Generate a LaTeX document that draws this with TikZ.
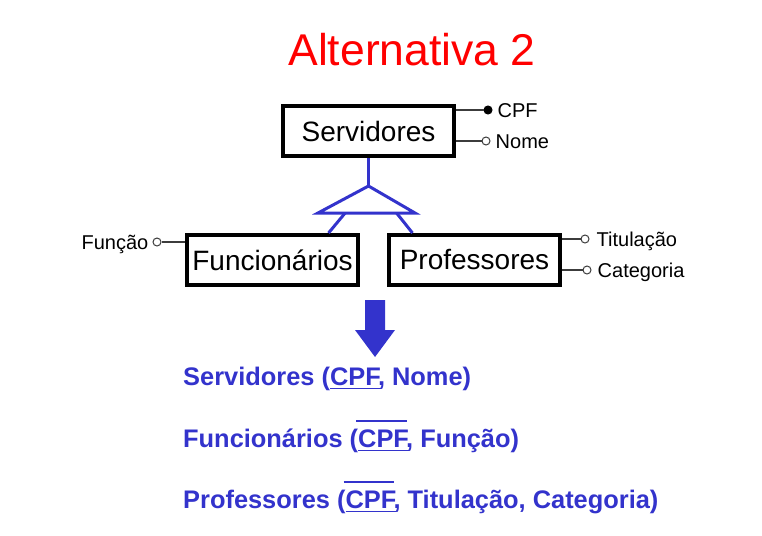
\documentclass[tikz,border=0pt]{standalone}
\usepackage{fontspec}
\setmainfont{Liberation Sans}
\usepackage{calc}
\usepackage{xcolor}
\usepackage{tikz}
\usetikzlibrary{arrows.meta,positioning,calc}
\definecolor{isablue}{RGB}{51,51,204}
\definecolor{attrgray}{RGB}{60,60,60}
\newcommand{\pkey}[1]{\leavevmode\rlap{\raisebox{-0.17em}{\rule{\widthof{#1}}{1.7pt}}}#1}
\newcommand{\fkey}[1]{\leavevmode\rlap{\hspace{-2pt}\raisebox{0.98em}{\rule{\widthof{#1}}{1.7pt}}}\pkey{#1}}

\begin{document}
\begin{tikzpicture}[x=1pt, y=-1pt,
  entity/.style={draw=black, line width=4pt, minimum width=171pt, minimum height=50pt, inner sep=0pt, font=\fontsize{28}{32}\selectfont},
  attr/.style={circle, draw=attrgray, fill=white, line width=1pt, minimum size=8pt, inner sep=0pt},
  keyattr/.style={attr, fill=black, draw=black},
  attrtext/.style={font=\fontsize{20}{24}\selectfont, inner sep=0pt, text height=14.3pt, text depth=0pt},
  rel/.style={anchor=base west, inner sep=0pt, text=isablue, font=\bfseries\fontsize{25.4}{30}\selectfont},
  link/.style={draw=attrgray, line width=1.3pt},
  isa/.style={draw=isablue, line width=3pt}
]
\useasboundingbox (0,0) rectangle (762,535);

\node[text=red, font=\fontsize{44.5}{50}\selectfont, anchor=base] (title) at (412,65) {Alternativa 2};

% entities
\node[entity] (srv)  at (368.5,131) {Servidores};
\node[entity] (func) at (272.5,260) {Funcionários};
\node[entity] (prof) at (474.5,260) {Professores};

% attributes
\node[keyattr] (cpf) at (488,110) {};
\node[attrtext, right=5pt of cpf] (cpft) {CPF};
\node[attr] (nome) at (486,141) {};
\node[attrtext, right=5pt of nome] (nomet) {Nome};
\draw[link] (srv.east |- cpf) -- (cpf);
\draw[link] (srv.east |- nome) -- (nome);

\node[attr] (funcao) at (157,242) {};
\node[attrtext, left=4pt of funcao] (funcaot) {Função};
\draw[link] (func.west |- funcao) -- (funcao);

\node[attr] (tit) at (585,239) {};
\node[attrtext, right=7pt of tit] (titt) {Titulação};
\node[attr] (cat) at (587,270) {};
\node[attrtext, right=6pt of cat] (catt) {Categoria};
\draw[link] (prof.east |- tit) -- (tit);
\draw[link] (prof.east |- cat) -- (cat);

% specialization
\coordinate (apex) at (368.5,186);
\coordinate (bl) at (318,213);
\coordinate (br) at (415,213);
\draw[isa] (srv.south) -- (apex);
\draw[isa, line join=miter] (apex) -- (bl) -- (br) -- cycle;
\draw[isa] ($(bl)!0.28!(br)$) -- ([xshift=56pt]func.north);
\draw[isa] ($(bl)!0.81!(br)$) -- ([xshift=-62pt]prof.north);

% mapping arrow
\fill[isablue] (365,300) -- (385,300) -- (385,330) -- (395,330) -- (375,357) -- (355,330) -- (365,330) -- cycle;

% relations
\node[rel] (r1) at (183,385) {Servidores (\pkey{CPF}, Nome)};
\node[rel] (r2) at (183,447) {Funcionários (\fkey{CPF}, Função)};
\node[rel] (r3) at (183,508) {Professores (\fkey{CPF}, Titulação, Categoria)};
\end{tikzpicture}
\end{document}
